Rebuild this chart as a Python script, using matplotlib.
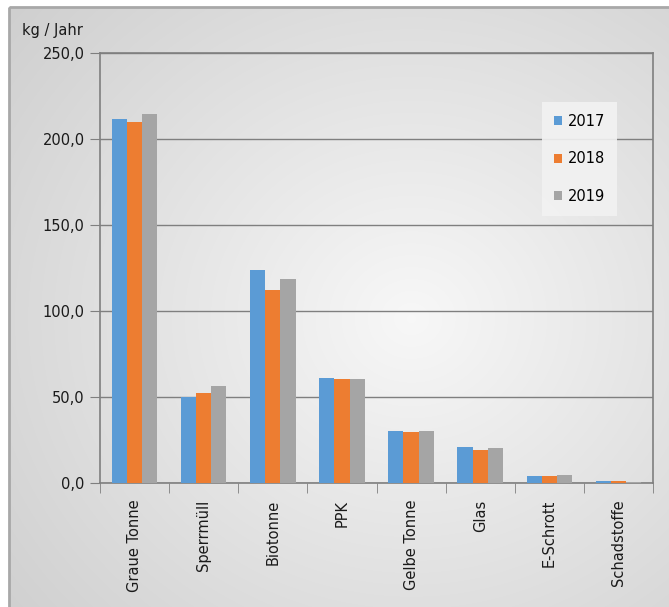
import numpy as np
import matplotlib
matplotlib.use("Agg")
import matplotlib.pyplot as plt
from matplotlib.patches import Rectangle
from matplotlib.ticker import FuncFormatter

categories = ["Graue Tonne", "Sperrmüll", "Biotonne", "PPK",
              "Gelbe Tonne", "Glas", "E-Schrott", "Schadstoffe"]
years = ["2017", "2018", "2019"]
v2017 = [211.6, 50.2, 123.8, 61.2, 30.4, 20.9, 4.1, 1.0]
v2018 = [209.9, 52.5, 112.5, 60.4, 29.7, 19.3, 3.9, 0.9]
v2019 = [214.6, 56.4, 118.6, 60.3, 30.4, 20.4, 4.7, 0.6]
colors = ["#5b9bd5", "#ed7d31", "#a5a5a5"]

W, H = 669, 607
fig = plt.figure(figsize=(W / 100, H / 100), dpi=100)
fig.patch.set_facecolor("white")

# radial gray background of the chart area
bg = fig.add_axes([0, 0, 1, 1])
bg.axis("off")
yy, xx = np.mgrid[0:H, 0:W]
r = np.hypot((xx - 390) / 420, (yy - 300) / 380)
g = 0.97 - 0.13 * np.clip(r, 0, 1.2)
img = np.dstack([g, g, g])
bg.imshow(img, extent=(9, W + 30, H + 30, 7), aspect="auto", zorder=0)
bg.add_patch(Rectangle((9, 7), W, H, fill=False, edgecolor="#a8a8a8", lw=2.0, zorder=1))
bg.set_xlim(0, W)
bg.set_ylim(H, 0)

ax = fig.add_axes([100 / W, 1 - 483 / H, 553 / W, 430 / H])
ax.patch.set_alpha(0)

x = np.arange(len(categories))
bw = 0.22
for i, (vals, yr) in enumerate(zip([v2017, v2018, v2019], years)):
    ax.bar(x + (i - 1) * bw, vals, bw, color=colors[i], label=yr, zorder=3)

ax.set_xlim(-0.5, len(categories) - 0.5)
ax.set_ylim(0, 250)
ax.set_yticks(np.arange(0, 251, 50))
ax.yaxis.set_major_formatter(FuncFormatter(lambda v, p: f"{v:.1f}".replace(".", ",")))
ax.yaxis.grid(True, color="#7f7f7f", lw=1.0, zorder=1)
ax.set_axisbelow(True)

ax.set_xticks(x)
ax.set_xticklabels(categories, rotation=90, fontsize=10.5, color="#1a1a1a")
ax.tick_params(axis="x", which="major", length=0, pad=12)
ax.set_xticks(np.arange(-0.5, len(categories), 1), minor=True)
ax.tick_params(axis="x", which="minor", length=7, color="#7f7f7f", direction="out")
ax.tick_params(axis="y", length=7, color="#7f7f7f", labelsize=10.5, labelcolor="#1a1a1a", pad=4)

for s in ax.spines.values():
    s.set_color("#7f7f7f")
    s.set_linewidth(1.2)

fig.text(22 / W, 1 - 31 / H, "kg / Jahr", fontsize=10.5, color="#1a1a1a", va="center")

leg = ax.legend(loc="upper left", bbox_to_anchor=((542 - 100) / 553, (483 - 102) / 430),
                frameon=True, fontsize=10.5, handlelength=0.6, handleheight=0.6,
                labelspacing=1.55, borderpad=0.8, handletextpad=0.4, borderaxespad=0,
                fancybox=False)
leg.get_frame().set_facecolor("#f2f2f2")
leg.get_frame().set_edgecolor("none")
leg.get_frame().set_alpha(0.9)

fig.savefig("out.png", dpi=100)
